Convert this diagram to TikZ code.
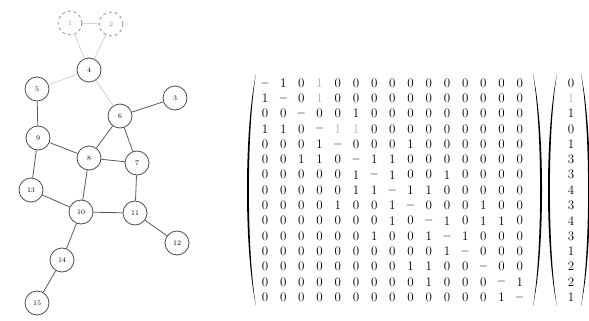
\documentclass[tikz,border=0pt]{standalone}
\usepackage{amsmath}
\usetikzlibrary{arrows.meta}
\tikzset{
  vtx/.style={circle, draw=black!70, thick, fill=white, minimum size=24pt, inner sep=0pt, font=\fontsize{7}{8}\selectfont},
  ghost/.style={vtx, dashed, draw=black!45, text=black!45},
  edge/.style={black!65, thick},
  faint/.style={black!18, thick},
  entry/.style={inner sep=0pt, font=\fontsize{13}{14}\selectfont}
}
% m = diagonal dash, g = faded one
\newcommand{\entry}[1]{\if#1m$-$\else\if#1g\textcolor{black!30}{1}\else#1\fi\fi}

\begin{document}
\begin{tikzpicture}[x=1pt, y=-1pt]
    \useasboundingbox (0,0) rectangle (589,321);

    % graph
    \node[ghost] (n1) at (70,23) {1};
    \node[ghost] (n2) at (111,24) {2};
    \node[vtx] (n4) at (89,70) {4};
    \node[vtx] (n5) at (37,89) {5};
    \node[vtx] (n3) at (175,98) {3};
    \node[vtx] (n6) at (120,116) {6};
    \node[vtx] (n9) at (38,138) {9};
    \node[vtx] (n8) at (89,158) {8};
    \node[vtx] (n7) at (137,163) {7};
    \node[vtx] (n13) at (31,190) {13};
    \node[vtx] (n10) at (81,212) {10};
    \node[vtx] (n11) at (135,213) {11};
    \node[vtx] (n12) at (177,243) {12};
    \node[vtx] (n14) at (62,260) {14};
    \node[vtx] (n15) at (37,303) {15};

    \foreach \a/\b in {1/2, 1/4, 2/4, 4/5, 4/6}
        \draw[faint] (n\a) -- (n\b);
    \foreach \a/\b in {3/6, 5/9, 6/7, 6/8, 7/8, 7/11, 8/9, 8/10, 9/13,
                       10/11, 10/13, 10/14, 11/12, 14/15}
        \draw[edge] (n\a) -- (n\b);

    % adjacency matrix
    \foreach \r [count=\i] in {
        {m,1,0,g,0,0,0,0,0,0,0,0,0,0,0},
        {1,m,0,g,0,0,0,0,0,0,0,0,0,0,0},
        {0,0,m,0,0,1,0,0,0,0,0,0,0,0,0},
        {1,1,0,m,g,g,0,0,0,0,0,0,0,0,0},
        {0,0,0,1,m,0,0,0,1,0,0,0,0,0,0},
        {0,0,1,1,0,m,1,1,0,0,0,0,0,0,0},
        {0,0,0,0,0,1,m,1,0,0,1,0,0,0,0},
        {0,0,0,0,0,1,1,m,1,1,0,0,0,0,0},
        {0,0,0,0,1,0,0,1,m,0,0,0,1,0,0},
        {0,0,0,0,0,0,0,1,0,m,1,0,1,1,0},
        {0,0,0,0,0,0,1,0,0,1,m,1,0,0,0},
        {0,0,0,0,0,0,0,0,0,0,1,m,0,0,0},
        {0,0,0,0,0,0,0,0,1,1,0,0,m,0,0},
        {0,0,0,0,0,0,0,0,0,1,0,0,0,m,1},
        {0,0,0,0,0,0,0,0,0,0,0,0,0,1,m}}
        \foreach \e [count=\j] in \r
            \node[entry] (a\i-\j) at ({265+18.2*(\j-1)},{83+15.3*(\i-1)}) {\entry{\e}};

    % degree vector
    \foreach \e [count=\i] in {0,g,1,0,1,3,3,4,3,4,3,1,2,2,1}
        \node[entry] (d\i) at (571,{83+15.3*(\i-1)}) {\entry{\e}};

    % brackets
    \fill (256,74) .. controls (244,130) and (244,250) .. (256,306)
          .. controls (246.5,250) and (246.5,130) .. (256,74) -- cycle;
    \fill (533,74) .. controls (545,130) and (545,250) .. (533,306)
          .. controls (542.5,250) and (542.5,130) .. (533,74) -- cycle;
    \fill (557,74) .. controls (545,130) and (545,250) .. (557,306)
          .. controls (547.5,250) and (547.5,130) .. (557,74) -- cycle;
    \fill (581,74) .. controls (593,130) and (593,250) .. (581,306)
          .. controls (590.5,250) and (590.5,130) .. (581,74) -- cycle;
\end{tikzpicture}
\end{document}
